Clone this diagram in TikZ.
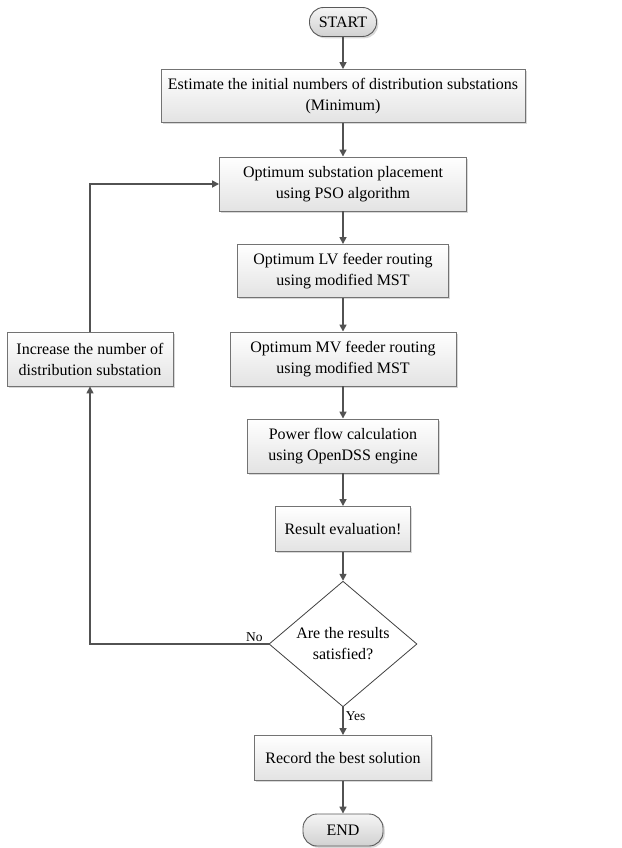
\documentclass[tikz,border=0pt]{standalone}
\usepackage{fontspec}
\setmainfont{Liberation Serif}
\usetikzlibrary{arrows.meta,shapes.geometric,shadows}

\tikzset{
  procbox/.style={draw=black!55, line width=0.9pt, top color=white, bottom color=black!11,
    drop shadow={shadow xshift=1.8pt, shadow yshift=-1.8pt, fill=black!30, opacity=0.5},
    align=center, inner sep=0pt, minimum height=53pt, font=\fontsize{16}{21}\selectfont},
  termbox/.style={procbox, rounded corners=14pt, draw=black!65, top color=black!4, bottom color=black!18},
  decision/.style={diamond, draw=black!75, line width=0.8pt, fill=white, minimum width=148pt,
    minimum height=115pt, inner sep=0pt, align=center, font=\fontsize{16}{21}\selectfont},
  flow/.style={draw=black!68, line width=1.6pt, -{Triangle[width=7pt,length=7pt]}},
  lbl/.style={font=\fontsize{13.5}{16}\selectfont, inner sep=2pt}
}

\begin{document}
\begin{tikzpicture}[x=1pt, y=-1pt]
  \useasboundingbox (0,0) rectangle (621,848);

  % main column
  \node[termbox, minimum width=67pt, minimum height=29pt] (start) at (343,22) {START};
  \node[procbox, minimum width=364pt] (estim) at (343,96)
    {Estimate the initial numbers of distribution substations\\(Minimum)};
  \node[procbox, minimum width=247pt, minimum height=54pt] (pso) at (343,184)
    {Optimum substation placement\\using PSO algorithm};
  \node[procbox, minimum width=211pt] (lvroute) at (343,271)
    {Optimum LV feeder routing\\using modified MST};
  \node[procbox, minimum width=226pt, minimum height=54pt] (mvroute) at (343,359)
    {Optimum MV feeder routing\\using modified MST};
  \node[procbox, minimum width=191pt, minimum height=54pt] (pflow) at (343,446)
    {Power flow calculation\\using OpenDSS engine};
  \node[procbox, minimum width=135pt, minimum height=45pt] (evalres) at (343,529)
    {Result evaluation!};
  \node[decision] (satis) at (343,644) {Are the results\\satisfied?};
  \node[procbox, minimum width=177pt, minimum height=45pt] (record) at (343,758)
    {Record the best solution};
  \node[termbox, minimum width=80pt, minimum height=32pt] (finish) at (343,830) {END};

  % feedback branch
  \node[procbox, minimum width=166pt, minimum height=54pt] (incr) at (90,359)
    {Increase the number of\\distribution substation};

  \draw[flow] (start) -- (estim);
  \draw[flow] (estim) -- (pso);
  \draw[flow] (pso) -- (lvroute);
  \draw[flow] (lvroute) -- (mvroute);
  \draw[flow] (mvroute) -- (pflow);
  \draw[flow] (pflow) -- (evalres);
  \draw[flow] (evalres) -- (satis);
  \draw[flow] (satis) -- node[lbl, right, pos=0.32] {Yes} (record);
  \draw[flow] (record) -- (finish);

  \draw[flow] (satis.west) -- node[lbl, above, pos=0.08] {No} (satis.west -| incr) -- (incr.south);
  \draw[flow] (incr.north) |- (pso.west);
\end{tikzpicture}
\end{document}
